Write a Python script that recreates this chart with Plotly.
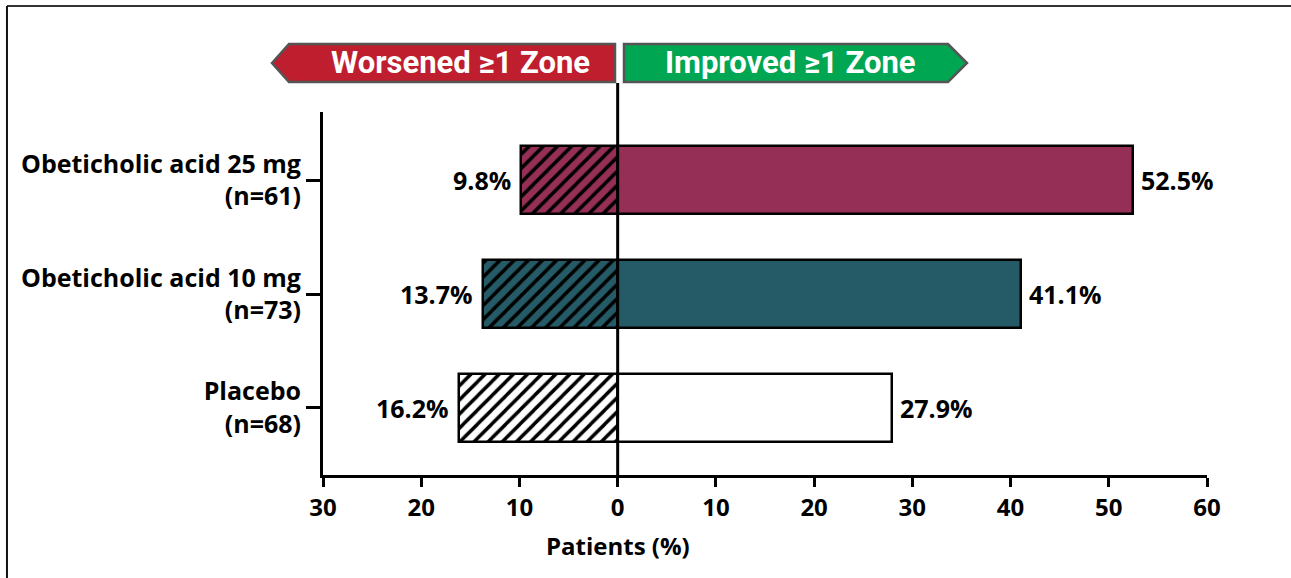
import plotly.graph_objects as go

# Data
categories = ["Obeticholic acid 25 mg<br>(n=61)", "Obeticholic acid 10 mg<br>(n=73)", "Placebo<br>(n=68)"]
worsened = [9.8, 13.7, 16.2]
improved = [52.5, 41.1, 27.9]
bar_colors = ["#952F55", "#245B67", "#FFFFFF"]
x_ticks = [-30, -20, -10, 0, 10, 20, 30, 40, 50, 60]
x_tick_labels = ["30", "20", "10", "0", "10", "20", "30", "40", "50", "60"]

# plot from top to bottom: first category at top
ypos = [len(categories) - 1 - i for i in range(len(categories))]

FONT = "Open Sans, DejaVu Sans, sans-serif"
BANNER_FONT = "Liberation Sans Narrow, Roboto, sans-serif"
FS = 24

fig = go.Figure()

for y, w, c in zip(ypos, worsened, bar_colors):
    fig.add_trace(go.Bar(
        y=[y], x=[-w], orientation="h", width=0.6,
        marker=dict(color=c, line=dict(color="black", width=2.5),
                    pattern=dict(shape="/", fgcolor="black", bgcolor=c, fillmode="replace",
                                 size=10, solidity=0.35)),
        hoverinfo="skip", showlegend=False,
    ))
fig.add_trace(go.Bar(
    y=ypos, x=improved, orientation="h", width=0.6,
    marker=dict(color=bar_colors, line=dict(color="black", width=2.5)),
    hoverinfo="skip", showlegend=False,
))

annotations = []
for y, w, im in zip(ypos, worsened, improved):
    annotations.append(dict(x=-w, y=y, xref="x", yref="y", text=f"{w}%", showarrow=False,
                            xanchor="right", xshift=-8, font=dict(family=FONT, size=25, color="black", weight="bold")))
    annotations.append(dict(x=im, y=y, xref="x", yref="y", text=f"{im}%", showarrow=False,
                            xanchor="left", xshift=6, font=dict(family=FONT, size=25, color="black", weight="bold")))

# Axis title, centred under the zero line
annotations.append(dict(x=0, y=-0.193, xref="x", yref="paper", text="Patients (%)", showarrow=False,
                        xanchor="center", yanchor="middle",
                        font=dict(family=FONT, size=FS, color="black", weight="bold")))

# Zone banners (paper coordinates)
yt, yb, ym = 1.187, 1.0826, 1.135
annotations.append(dict(x=0.1561, y=ym, xref="paper", yref="paper", text="Worsened ≥1 Zone", showarrow=False,
                        xanchor="center", yanchor="middle",
                        font=dict(family=BANNER_FONT, size=31, color="white", weight="bold")))
annotations.append(dict(x=0.5294, y=ym, xref="paper", yref="paper", text="Improved ≥1 Zone", showarrow=False,
                        xanchor="center", yanchor="middle",
                        font=dict(family=BANNER_FONT, size=31, color="white", weight="bold")))

shapes = [
    dict(type="path", xref="paper", yref="paper",
         path=f"M -0.0577 {ym} L -0.0385 {yt} L 0.3303 {yt} L 0.3303 {yb} L -0.0385 {yb} Z",
         fillcolor="#BE1E2D", line=dict(color="#555555", width=2.5), layer="below"),
    dict(type="path", xref="paper", yref="paper",
         path=f"M 0.3405 {yt} L 0.7070 {yt} L 0.7285 {ym} L 0.7070 {yb} L 0.3405 {yb} Z",
         fillcolor="#00A651", line=dict(color="#555555", width=2.5), layer="below"),
    # zero reference line
    dict(type="line", xref="x", yref="paper", x0=0, x1=0, y0=0, y1=1.08,
         line=dict(color="black", width=3), layer="above"),
    # outer frame
    dict(type="line", xref="paper", yref="paper", x0=-0.3575, x1=1.1, y0=1.292, y1=1.292,
         line=dict(color="#333333", width=2)),
    dict(type="line", xref="paper", yref="paper", x0=-0.3575, x1=-0.3575, y0=1.292, y1=-0.3,
         line=dict(color="#111111", width=2)),
]

fig.update_layout(
    width=1291, height=578,
    margin=dict(l=323, r=84, t=112, b=103),
    paper_bgcolor="white", plot_bgcolor="white",
    barmode="overlay", bargap=0,
    annotations=annotations, shapes=shapes,
    font=dict(family=FONT, color="black"),
)
fig.update_xaxes(
    range=[-30, 60], tickvals=x_ticks, ticktext=x_tick_labels,
    showline=True, linecolor="black", linewidth=3, ticks="outside", ticklen=9, tickwidth=3, tickcolor="black",
    showgrid=False, zeroline=False,
    tickfont=dict(family=FONT, size=FS, weight="bold"),
)
fig.update_yaxes(
    range=[-0.59, 2.6], tickvals=ypos, ticktext=categories,
    showline=True, linecolor="black", linewidth=3, ticks="outside", ticklen=14, tickwidth=3, tickcolor="black",
    showgrid=False, zeroline=False,
    tickfont=dict(family=FONT, size=25, weight="bold"),
)

fig.write_html("out.html")
